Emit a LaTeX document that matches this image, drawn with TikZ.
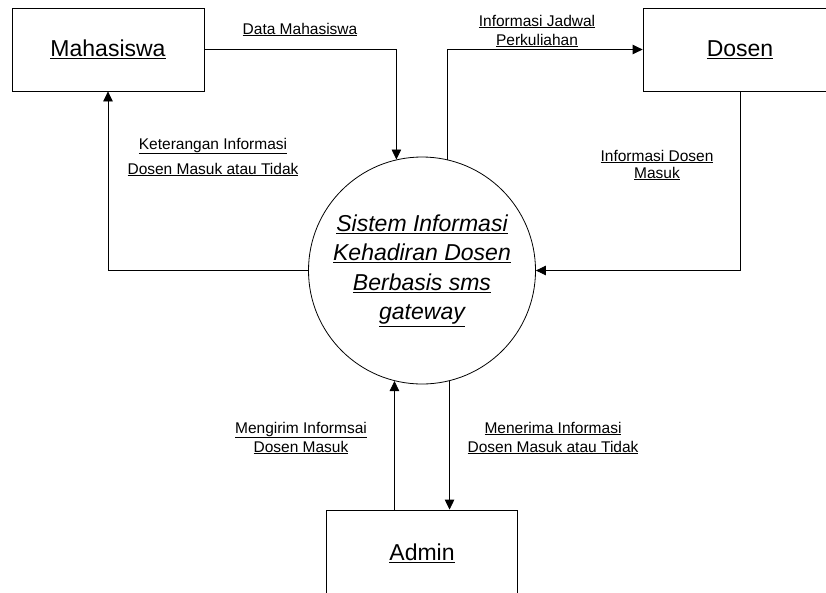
\documentclass[tikz,border=0pt]{standalone}
\usepackage{fontspec}
\setmainfont{Liberation Sans}
\usetikzlibrary{arrows.meta,shapes}
\newcommand{\undl}[1]{\underline{#1}}
\tikzset{
  ent/.style={draw, line width=0.8pt, minimum height=83pt, font=\fontsize{23}{27}\selectfont},
  proc/.style={draw, circle, line width=0.8pt, minimum size=227pt, inner sep=0pt, align=center, font=\fontsize{23}{29.5}\selectfont\itshape},
  flow/.style={line width=0.8pt, -{Triangle[length=10pt,width=9.5pt]}},
  lbl/.style={align=center, inner sep=0pt, font=\fontsize{15.5}{19}\selectfont}
}

\begin{document}
\begin{tikzpicture}[x=1pt, y=-1pt]
    \useasboundingbox (0, 0) rectangle (826, 592);
    % entitas dan proses
    \node [ent, minimum width=192pt] (mhs) at (108, 49.5) {\undl{Mahasiswa}};
    \node [ent, minimum width=194pt] (dsn) at (740, 49.5) {\undl{Dosen}};
    \node [ent, minimum width=191pt, minimum height=86pt] (adm) at (422, 553) {\undl{Admin}};
    \node [proc] (sis) at (422, 270.5) {\undl{Sistem Informasi}\\ \undl{Kehadiran Dosen}\\ \undl{Berbasis sms}\\ \undl{gateway}};
    % aliran data
    \draw [flow] (mhs.east) -| (sis.103);
    \draw [flow] (sis.77) |- (dsn.west);
    \draw [flow] (dsn.south) |- (sis.east);
    \draw [flow] (sis.west) -| (mhs.south);
    \draw [flow] (adm.north -| sis.256) -- (sis.256);
    \draw [flow] (sis.284) -- (adm.north -| sis.284);
    % label aliran
    \node [lbl] (lmhs) at (300, 29.5) {\undl{Data Mahasiswa}};
    \node [lbl] (lket) at (213, 157) {\undl{Keterangan Informasi}\\[6pt] \undl{Dosen Masuk atau Tidak}};
    \node [lbl] (ljdw) at (537, 31) {\undl{Informasi Jadwal}\\ \undl{Perkuliahan}};
    \node [lbl] (ldsn) at (657, 165) {\undl{Informasi Dosen}\\[-2pt] \undl{Masuk}};
    \node [lbl] (lkrm) at (301, 438) {\undl{Mengirim Informsai}\\ \undl{Dosen Masuk}};
    \node [lbl] (ltrm) at (553, 438) {\undl{Menerima Informasi}\\ \undl{Dosen Masuk atau Tidak}};
\end{tikzpicture}
\end{document}
